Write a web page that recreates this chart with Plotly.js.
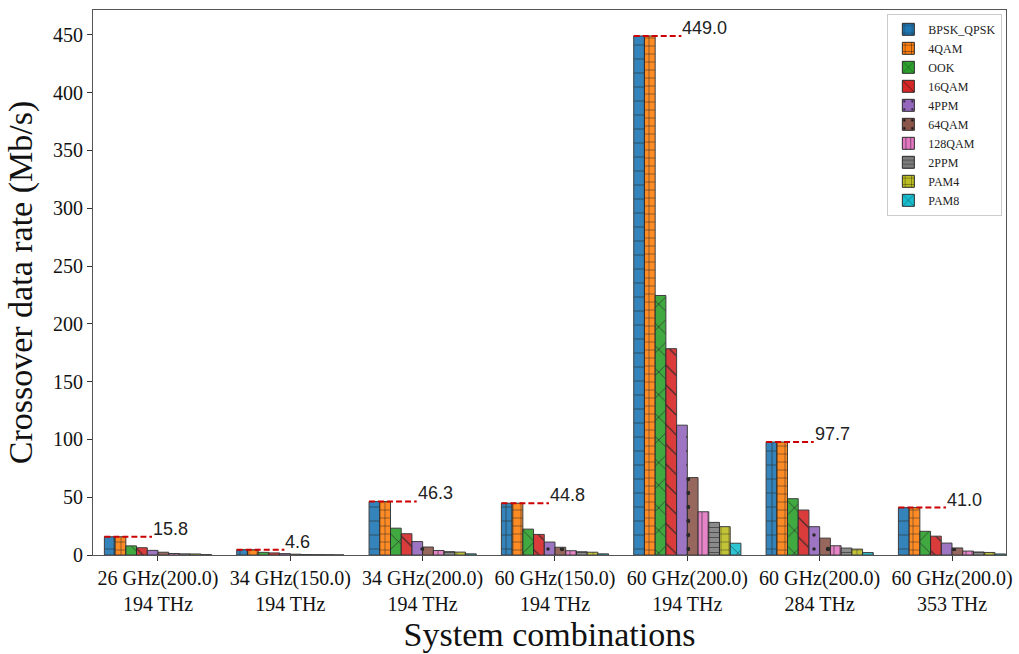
<!DOCTYPE html>
<html>
<head>
<meta charset="utf-8">
<script src="https://cdn.plot.ly/plotly-3.0.1.min.js"></script>
<style>html,body{margin:0;padding:0;background:#fff;}#chart{width:1019px;height:654px;}</style>
</head>
<body>
<div id="chart"></div>
<script>
// Categories (system combinations)
const categories = [
  "26 GHz(200.0)<br>194 THz",
  "34 GHz(150.0)<br>194 THz",
  "34 GHz(200.0)<br>194 THz",
  "60 GHz(150.0)<br>194 THz",
  "60 GHz(200.0)<br>194 THz",
  "60 GHz(200.0)<br>284 THz",
  "60 GHz(200.0)<br>353 THz"
];
const schemes = ["BPSK_QPSK","4QAM","OOK","16QAM","4PPM","64QAM","128QAM","2PPM","PAM4","PAM8"];

// Crossover data rate (Mb/s) per scheme, one value per category
const BPSK_QPSK = [15.8, 4.6, 46.3, 44.8, 449.0, 97.7, 41.0];
const QAM4      = [15.8, 4.6, 46.3, 44.8, 449.0, 97.7, 41.0];
const OOK       = [7.9, 2.3, 23.2, 22.4, 224.5, 48.7, 20.5];
const QAM16     = [6.3, 1.8, 18.4, 17.8, 178.5, 38.9, 16.3];
const PPM4      = [4.0, 1.2, 11.6, 11.2, 112.3, 24.5, 10.3];
const QAM64     = [2.4, 0.7, 6.9, 6.7, 67.0, 14.6, 6.1];
const QAM128    = [1.3, 0.4, 3.9, 3.7, 37.4, 8.0, 3.4];
const PPM2      = [1.0, 0.3, 2.9, 2.8, 28.2, 6.0, 2.6];
const PAM4      = [0.9, 0.25, 2.5, 2.4, 24.5, 5.1, 2.2];
const PAM8      = [0.35, 0.1, 1.0, 1.0, 10.2, 2.1, 0.9];
const seriesValues = [BPSK_QPSK, QAM4, OOK, QAM16, PPM4, QAM64, QAM128, PPM2, PAM4, PAM8];

const colors = ["#1f77b4","#ff7f0e","#2ca02c","#d62728","#9467bd","#8c564b","#e377c2","#7f7f7f","#bcbd22","#17becf"];
const shapes = ["+","+","x","\\",".",".","|","-","+","x"];
const sizes  = [14, 8, 16, 14, 14, 14, 6, 5, 8, 12];
const solid  = [0.08, 0.12, 0.08, 0.08, 0.05, 0.08, 0.1, 0.12, 0.1, 0.08];

const xpos = categories.map((c, i) => i);
const groupWidth = 0.81;

const traces = schemes.map((name, k) => ({
  type: "bar",
  name: name,
  x: xpos,
  y: seriesValues[k],
  marker: {
    color: colors[k],
    opacity: 0.9,
    line: {color: "#2a2a2a", width: 1},
    pattern: {
      shape: shapes[k],
      fillmode: "overlay",
      fgcolor: "#111",
      bgcolor: colors[k],
      fgopacity: 1,
      size: sizes[k],
      solidity: solid[k]
    }
  },
  hoverinfo: "x+y+name"
}));

// Dashed reference lines at the top value of each group
const annotations = [];
xpos.forEach((xi, i) => {
  const v = BPSK_QPSK[i];
  const x0 = xi - groupWidth / 2;
  const x1 = xi - 0.045;
  traces.push({
    type: "scatter",
    mode: "lines",
    x: [x0, x1],
    y: [v, v],
    line: {color: "#cc0000", width: 2, dash: "6px,3px"},
    showlegend: false,
    hoverinfo: "skip"
  });
  annotations.push({
    x: x1, y: v, xref: "x", yref: "y",
    text: v.toFixed(1),
    showarrow: false,
    xanchor: "left", yanchor: "bottom",
    yshift: -4, xshift: -1,
    font: {family: "Liberation Sans, Arial, sans-serif", size: 18, color: "#222"}
  });
});

const layout = {
  width: 1019, height: 654,
  paper_bgcolor: "#fff", plot_bgcolor: "#fff",
  margin: {l: 93, r: 13, t: 10, b: 99},
  barmode: "group",
  bargap: 1 - groupWidth,
  bargroupgap: 0,
  font: {family: "Liberation Serif, Times New Roman, serif", color: "#111"},
  xaxis: {
    range: [-0.491, 6.408],
    tickmode: "array",
    tickvals: xpos,
    ticktext: categories,
    ticks: "outside", ticklen: 5, tickwidth: 1, tickcolor: "#333",
    showline: true, linecolor: "#555", linewidth: 1, mirror: true,
    showgrid: false, zeroline: false,
    tickfont: {size: 20, family: "Liberation Serif, serif", color: "#111"},
    title: {text: "System combinations", font: {size: 34, family: "Liberation Serif, serif", color: "#111"}, standoff: 8}
  },
  yaxis: {
    range: [0, 471.45],
    tickmode: "array",
    tickvals: [0,50,100,150,200,250,300,350,400,450],
    ticks: "outside", ticklen: 5, tickwidth: 1, tickcolor: "#333",
    showline: true, linecolor: "#555", linewidth: 1, mirror: true,
    showgrid: false, zeroline: false,
    tickfont: {size: 20, family: "Liberation Serif, serif", color: "#111"},
    title: {text: "Crossover data rate (Mb/s)", font: {size: 34, family: "Liberation Serif, serif", color: "#111"}, standoff: 10}
  },
  legend: {
    x: 0.996, y: 0.993, xanchor: "right", yanchor: "top",
    bgcolor: "rgba(255,255,255,0.9)",
    bordercolor: "#cccccc", borderwidth: 1,
    font: {size: 12, family: "Liberation Serif, serif", color: "#222"},
    tracegroupgap: 0
  },
  annotations: annotations,
  showlegend: true
};

Plotly.newPlot("chart", traces, layout, {displayModeBar: false, staticPlot: true});
</script>
</body>
</html>
